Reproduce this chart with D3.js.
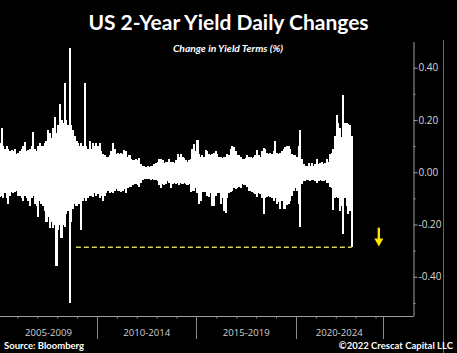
<!DOCTYPE html>
<html>
<head>
<meta charset="utf-8">
<script src="https://cdn.jsdelivr.net/npm/d3@7"></script>
<style>
  html, body { margin: 0; padding: 0; background: #000; }
  svg { display: block; }
</style>
</head>
<body>
<svg id="chart" width="457" height="353"></svg>
<script>
// monthly envelope of daily changes (max / min, %), Jan 2005 .. Oct 2022
const monthlyHigh = [
  0.10, 0.11, 0.17, 0.10, 0.09, 0.10, 0.09, 0.08, 0.085, 0.08, 0.09, 0.07,    // 2005
  0.075, 0.08, 0.09, 0.10, 0.115, 0.08, 0.085, 0.09, 0.10, 0.155, 0.09, 0.08, // 2006
  0.10, 0.11, 0.10, 0.10, 0.11, 0.12, 0.16, 0.15, 0.13, 0.17, 0.21, 0.15,     // 2007
  0.18, 0.26, 0.20, 0.19, 0.34, 0.20, 0.18, 0.477, 0.18, 0.16, 0.14, 0.12,    // 2008
  0.11, 0.10, 0.11, 0.10, 0.34, 0.10, 0.09, 0.12, 0.09, 0.11, 0.10, 0.11,     // 2009
  0.10, 0.11, 0.08, 0.07, 0.065, 0.06, 0.06, 0.065, 0.08, 0.11, 0.09, 0.07,   // 2010
  0.075, 0.07, 0.075, 0.07, 0.085, 0.08, 0.06, 0.065, 0.05, 0.045, 0.045, 0.05, // 2011
  0.045, 0.055, 0.03, 0.025, 0.025, 0.02, 0.025, 0.02, 0.025, 0.025, 0.03, 0.035, // 2012
  0.04, 0.05, 0.05, 0.045, 0.035, 0.04, 0.04, 0.05, 0.04, 0.04, 0.035, 0.045, // 2013
  0.07, 0.06, 0.07, 0.06, 0.055, 0.045, 0.04, 0.045, 0.05, 0.09, 0.107, 0.08, // 2014
  0.125, 0.07, 0.06, 0.065, 0.06, 0.085, 0.08, 0.07, 0.065, 0.07, 0.075, 0.08, // 2015
  0.07, 0.06, 0.06, 0.055, 0.06, 0.06, 0.07, 0.065, 0.09, 0.10, 0.095, 0.08,  // 2016
  0.065, 0.065, 0.06, 0.05, 0.05, 0.055, 0.065, 0.06, 0.06, 0.055, 0.06, 0.065, // 2017
  0.085, 0.065, 0.06, 0.08, 0.094, 0.09, 0.075, 0.07, 0.075, 0.07, 0.08, 0.118, // 2018
  0.075, 0.07, 0.075, 0.08, 0.09, 0.095, 0.10, 0.10, 0.09, 0.07, 0.065, 0.065, // 2019
  0.06, 0.10, 0.16, 0.05, 0.03, 0.025, 0.025, 0.035, 0.025, 0.035, 0.025, 0.03, // 2020
  0.05, 0.03, 0.035, 0.04, 0.03, 0.035, 0.05, 0.04, 0.07, 0.075, 0.09, 0.14,  // 2021
  0.22, 0.19, 0.17, 0.135, 0.294, 0.19, 0.19, 0.185, 0.18, 0.14               // 2022
];
const monthlyLow = [
  -0.09, -0.095, -0.09, -0.10, -0.08, -0.10, -0.12, -0.09, -0.075, -0.08, -0.075, -0.07,
  -0.09, -0.09, -0.10, -0.11, -0.09, -0.10, -0.11, -0.13, -0.10, -0.09, -0.12, -0.13,
  -0.17, -0.11, -0.12, -0.13, -0.15, -0.19, -0.17, -0.215, -0.19, -0.215, -0.20, -0.36,
  -0.22, -0.20, -0.25, -0.20, -0.21, -0.16, -0.15, -0.50, -0.19, -0.14, -0.12, -0.13,
  -0.12, -0.12, -0.22, -0.11, -0.10, -0.11, -0.10, -0.09, -0.09, -0.095, -0.08, -0.09,
  -0.085, -0.10, -0.09, -0.11, -0.09, -0.08, -0.07, -0.08, -0.075, -0.08, -0.07, -0.065,
  -0.07, -0.07, -0.075, -0.07, -0.065, -0.08, -0.06, -0.055, -0.055, -0.05, -0.045, -0.045,
  -0.05, -0.055, -0.04, -0.03, -0.025, -0.025, -0.025, -0.025, -0.03, -0.025, -0.03, -0.03,
  -0.035, -0.05, -0.06, -0.045, -0.05, -0.045, -0.035, -0.04, -0.06, -0.045, -0.04, -0.045,
  -0.04, -0.05, -0.04, -0.045, -0.04, -0.045, -0.05, -0.045, -0.075, -0.07, -0.07, -0.06,
  -0.08, -0.12, -0.11, -0.075, -0.075, -0.075, -0.09, -0.095, -0.08, -0.13, -0.13, -0.09,
  -0.08, -0.08, -0.12, -0.10, -0.15, -0.155, -0.10, -0.08, -0.075, -0.07, -0.06, -0.065,
  -0.06, -0.055, -0.06, -0.045, -0.05, -0.05, -0.055, -0.07, -0.07, -0.075, -0.08, -0.085,
  -0.095, -0.08, -0.085, -0.10, -0.158, -0.10, -0.095, -0.09, -0.095, -0.10, -0.11, -0.10,
  -0.12, -0.115, -0.14, -0.11, -0.14, -0.14, -0.125, -0.12, -0.11, -0.09, -0.07, -0.06,
  -0.07, -0.12, -0.21, -0.045, -0.035, -0.035, -0.03, -0.03, -0.035, -0.03, -0.03, -0.035,
  -0.04, -0.035, -0.03, -0.035, -0.035, -0.03, -0.04, -0.04, -0.055, -0.06, -0.145, -0.10,
  -0.095, -0.10, -0.15, -0.13, -0.235, -0.10, -0.13, -0.16, -0.15, -0.286
];
const periodLabels = ["2005-2009", "2010-2014", "2015-2019", "2020-2024"];
const periodBreaks = ["2005-01-01", "2010-01-01", "2015-01-01", "2020-01-01", "2024-05-10"];
const yMajorTicks = [-0.4, -0.2, 0, 0.2, 0.4];
const yMinorTicks = [-0.5, -0.3, -0.1, 0.1, 0.3];
const floorLevel = -0.287;              // yellow dashed line
const floorSpan = ["2008-12-10", "2022-10-20"];
const arrowAt = { date: "2024-03-01", from: -0.212, to: -0.284 };

const parse = d3.timeParse("%Y-%m-%d");
const svg = d3.select("#chart");

const x = d3.scaleTime()
  .domain([new Date(2005, 0, 1), new Date(2025, 0, 1)])
  .range([-2.5, 395.5]);
const y = d3.scaleLinear().domain([-0.55, 0.5]).range([316, 41.5]);

const plotRight = 413.5, plotBottom = 316.5;

svg.append("rect").attr("width", 457).attr("height", 353).attr("fill", "#000");

svg.append("defs").append("clipPath").attr("id", "plot")
  .append("rect").attr("x", 0).attr("y", 0).attr("width", plotRight).attr("height", plotBottom);

// one bar per month, spanning that month's lowest to highest daily change
const months = monthlyHigh.map((hi, i) => ({
  start: new Date(2005, i, 1), end: new Date(2005, i + 1, 1), hi: hi, lo: monthlyLow[i]
}));
svg.append("g").attr("clip-path", "url(#plot)")
  .selectAll("rect").data(months).join("rect")
  .attr("x", d => x(d.start))
  .attr("width", d => x(d.end) - x(d.start) + 0.4)
  .attr("y", d => y(d.hi))
  .attr("height", d => y(d.lo) - y(d.hi))
  .attr("fill", "#fff")
  .attr("shape-rendering", "crispEdges");

// yellow dashed floor line
svg.append("line")
  .attr("x1", x(parse(floorSpan[0]))).attr("x2", x(parse(floorSpan[1])))
  .attr("y1", y(floorLevel)).attr("y2", y(floorLevel))
  .attr("stroke", "#d6d64e").attr("stroke-width", 1.3)
  .attr("stroke-dasharray", "5,3");

// arrow
const ax = x(parse(arrowAt.date));
svg.append("line")
  .attr("x1", ax).attr("x2", ax)
  .attr("y1", y(arrowAt.from)).attr("y2", y(arrowAt.to) - 7)
  .attr("stroke", "#ffe600").attr("stroke-width", 2.4);
svg.append("path")
  .attr("d", `M${ax - 4.5},${y(arrowAt.to) - 8}L${ax + 4.5},${y(arrowAt.to) - 8}L${ax},${y(arrowAt.to)}Z`)
  .attr("fill", "#ffe600");

// frame lines
svg.append("line")
  .attr("x1", 0).attr("x2", plotRight).attr("y1", plotBottom).attr("y2", plotBottom)
  .attr("stroke", "#a0a0a0").attr("stroke-width", 1);
svg.append("line")
  .attr("x1", 443.5).attr("x2", 443.5).attr("y1", 40).attr("y2", 353)
  .attr("stroke", "#6a6a6a").attr("stroke-width", 1);

// right axis
const yAxis = svg.append("g").attr("transform", `translate(${plotRight},0)`)
  .call(d3.axisRight(y).tickValues(yMajorTicks).tickSize(4).tickSizeOuter(0)
    .tickFormat(d => d.toFixed(2)));
yAxis.select(".domain").attr("stroke", "#a0a0a0");
yAxis.selectAll(".tick line").attr("stroke", "#a0a0a0");
yAxis.selectAll(".tick text")
  .attr("x", 5).attr("fill", "#d8d8d8")
  .style("font-family", "'Open Sans', sans-serif").style("font-size", "10px");
const yMinor = svg.append("g").attr("transform", `translate(${plotRight},0)`)
  .call(d3.axisRight(y).tickValues(yMinorTicks).tickSize(2).tickFormat(""));
yMinor.select(".domain").remove();
yMinor.selectAll(".tick line").attr("stroke", "#a0a0a0");

// bottom year ticks
const years = d3.range(2006, 2026).filter(yr => yr % 5 !== 0);
const xAxis = svg.append("g").attr("transform", `translate(0,${plotBottom})`)
  .call(d3.axisBottom(x).tickValues(years.map(yr => new Date(yr, 0, 1)))
    .tickSize(2).tickFormat(""));
xAxis.select(".domain").remove();
xAxis.selectAll(".tick line").attr("stroke", "#8a8a8a");

// period separators and labels
const breaks = periodBreaks.map(parse);
svg.append("g").selectAll("line").data(breaks.slice(1)).join("line")
  .attr("x1", d => Math.round(x(d)) + 0.5).attr("x2", d => Math.round(x(d)) + 0.5)
  .attr("y1", plotBottom).attr("y2", 339)
  .attr("stroke", "#8a8a8a");
svg.append("g").selectAll("text").data(periodLabels).join("text")
  .attr("x", (d, i) => (Math.max(0, x(breaks[i])) + x(breaks[i + 1])) / 2)
  .attr("y", 336)
  .attr("text-anchor", "middle")
  .attr("fill", "#d0d0d0")
  .style("font-family", "'Open Sans', sans-serif").style("font-size", "9.6px")
  .text(d => d);

// titles
svg.append("text")
  .attr("x", 228.5).attr("y", 29.5).attr("text-anchor", "middle")
  .attr("fill", "#fff")
  .style("font-family", "Lato, sans-serif").style("font-weight", 700).style("font-size", "21px")
  .text("US 2-Year Yield Daily Changes");
svg.append("text")
  .attr("x", 228).attr("y", 52).attr("text-anchor", "middle")
  .attr("fill", "#fff")
  .style("font-family", "Lato, sans-serif").style("font-weight", 700)
  .style("font-style", "italic").style("font-size", "10.3px")
  .text("Change in Yield Terms (%)");

// footer
svg.append("text")
  .attr("x", 4).attr("y", 349)
  .attr("fill", "#fff")
  .style("font-family", "Lato, sans-serif").style("font-weight", 700).style("font-size", "9.5px")
  .text("Source: Bloomberg");
svg.append("text")
  .attr("x", 453).attr("y", 349).attr("text-anchor", "end")
  .attr("fill", "#fff")
  .style("font-family", "Lato, sans-serif").style("font-weight", 700).style("font-size", "9.5px")
  .text("©2022 Crescat Capital LLC");
</script>
</body>
</html>
